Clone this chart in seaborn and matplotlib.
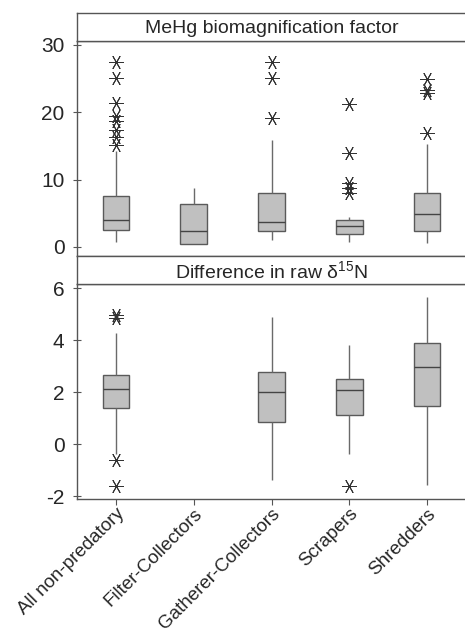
import pandas as pd
import numpy as np
import matplotlib
matplotlib.use('Agg')
import matplotlib.pyplot as plt
import seaborn as sns

sns.set_style('white')
plt.rcParams['font.family'] = ['Liberation Sans', 'DejaVu Sans']
plt.rcParams['mathtext.fontset'] = 'custom'
plt.rcParams['mathtext.rm'] = 'Liberation Sans'
plt.rcParams['axes.unicode_minus'] = False

groups = ['All non-predatory', 'Filter-Collectors', 'Gatherer-Collectors', 'Scrapers', 'Shredders']

# five-number summaries (low whisker, q1, median, q3, high whisker)
bmf_box = {
    'All non-predatory': [0.7, 2.5, 4.0, 7.6, 14.2],
    'Filter-Collectors': [0.4, 0.5, 2.4, 6.4, 8.7],
    'Gatherer-Collectors': [1.0, 2.4, 3.7, 8.0, 15.9],
    'Scrapers': [0.7, 2.0, 3.1, 4.0, 4.4],
    'Shredders': [0.65, 2.4, 4.95, 8.0, 15.3],
}
bmf_out = {
    'All non-predatory': [27.5, 25.1, 21.4, 19.4, 18.7, 17.4, 16.3, 15.1],
    'Gatherer-Collectors': [27.5, 25.1, 19.1],
    'Scrapers': [21.3, 13.9, 9.5, 8.7, 8.0],
    'Shredders': [24.9, 23.3, 22.8, 16.9],
}

dn_box = {
    'All non-predatory': [-0.4, 1.37, 2.1, 2.67, 4.26],
    'Gatherer-Collectors': [-1.38, 0.86, 2.0, 2.77, 4.87],
    'Scrapers': [-0.4, 1.1, 2.06, 2.49, 3.81],
    'Shredders': [-1.58, 1.46, 2.95, 3.88, 5.66],
}
dn_out = {
    'All non-predatory': [4.95, 4.85, -0.62, -1.62],
    'Scrapers': [-1.6],
}


def long_df(d):
    rows = [(g, v) for g, vals in d.items() for v in vals]
    return pd.DataFrame(rows, columns=['group', 'value'])


fig = plt.figure(figsize=(4.65, 6.36), dpi=100)
L, W = 0.1656, 0.8366
ax1 = fig.add_axes([L, 0.5975, W, 0.338])
s1 = fig.add_axes([L, 0.9355, W, 0.044])
ax2 = fig.add_axes([L, 0.2154, W, 0.338])
s2 = fig.add_axes([L, 0.5535, W, 0.044])

frame = '#555555'
box_kw = dict(order=groups, width=0.34, whis=(0, 100), showcaps=False, showfliers=False,
              color='#c0c0c0', saturation=1, linecolor='#5a5a5a', linewidth=1.0)
star = (6, 2, 90)

for ax, box, out, ylim, ticks in [
        (ax1, bmf_box, bmf_out, (-1.34, 30.59), [0, 10, 20, 30]),
        (ax2, dn_box, dn_out, (-2.115, 6.154), [-2, 0, 2, 4, 6])]:
    sns.boxplot(data=long_df(box), x='group', y='value', ax=ax, **box_kw,
                whiskerprops=dict(color='#6a6a6a'), medianprops=dict(color='#444444'))
    sns.stripplot(data=long_df(out), x='group', y='value', order=groups, ax=ax,
                  jitter=False, marker=star, s=10, color='#333333', linewidth=0.7)
    ax.set_xlim(-0.5, 4.5)
    ax.set_ylim(*ylim)
    ax.set_yticks(ticks)
    ax.set_xlabel('')
    ax.set_ylabel('')
    ax.tick_params(axis='y', labelsize=15, length=6, width=0.8, color=frame,
                   direction='inout', left=True, pad=6)
    for sp in ax.spines.values():
        sp.set_color(frame)
        sp.set_linewidth(1.0)
    ax.spines['right'].set_visible(False)

ax1.tick_params(axis='x', bottom=False, labelbottom=False)
ax2.tick_params(axis='x', labelsize=13.5, length=4.5, width=0.8, color=frame,
                direction='out', bottom=True, pad=0)
plt.setp(ax2.get_xticklabels(), rotation=45, ha='right', rotation_mode='anchor')

for s, title in [(s1, 'MeHg biomagnification factor'), (s2, r'Difference in raw δ$^{15}$N')]:
    s.set_xticks([])
    s.set_yticks([])
    for sp in s.spines.values():
        sp.set_color(frame)
        sp.set_linewidth(1.0)
    s.spines['right'].set_visible(False)
    s.text(0.5, 0.45, title, ha='center', va='center', fontsize=14, transform=s.transAxes)

fig.savefig('out.png', dpi=100)
